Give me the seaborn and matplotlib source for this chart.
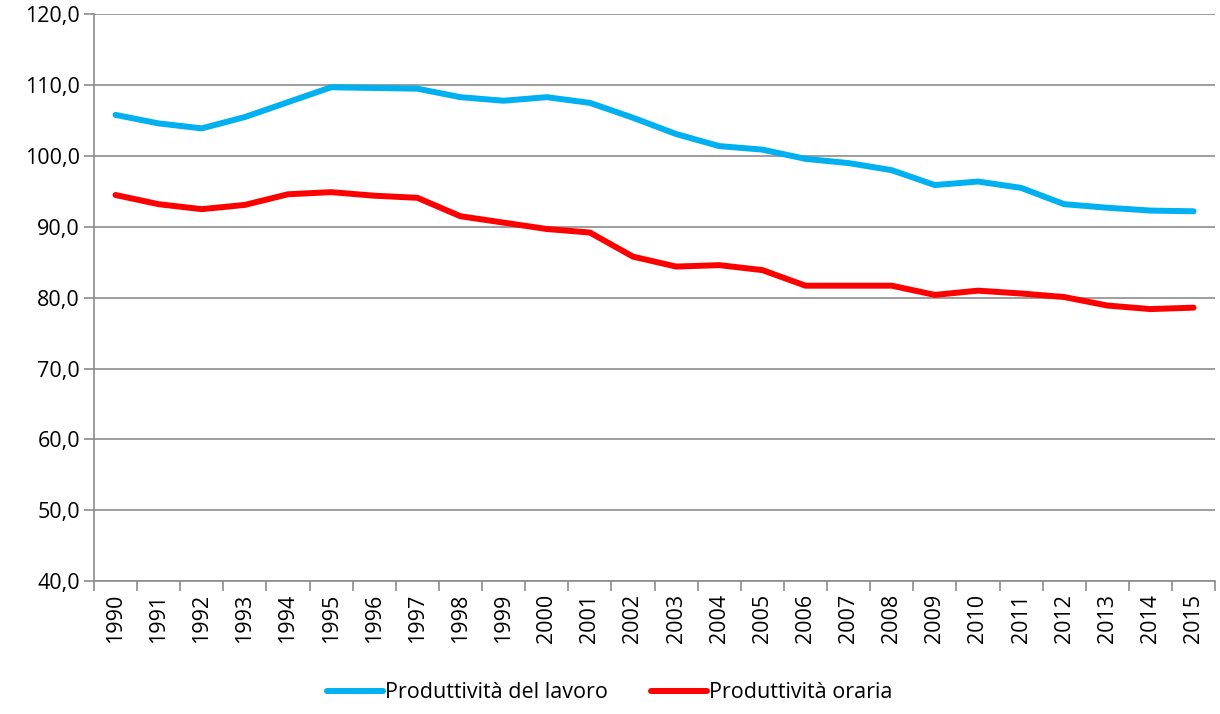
import numpy as np
import pandas as pd
import matplotlib
matplotlib.use("Agg")
import matplotlib.pyplot as plt
import seaborn as sns
from matplotlib.ticker import FixedLocator, FuncFormatter

years = list(range(1990, 2016))
lavoro = [105.8, 104.6, 103.9, 105.5, 107.6, 109.7, 109.6, 109.5, 108.3, 107.8,
          108.3, 107.5, 105.4, 103.1, 101.4, 100.9, 99.6, 99.0, 98.0, 95.9,
          96.4, 95.5, 93.2, 92.7, 92.3, 92.2]
oraria = [94.5, 93.2, 92.5, 93.1, 94.6, 94.9, 94.4, 94.1, 91.5, 90.6,
          89.7, 89.2, 85.8, 84.4, 84.6, 83.9, 81.7, 81.7, 81.7, 80.4,
          81.0, 80.6, 80.1, 78.9, 78.4, 78.6]
series_names = ["Produttività del lavoro", "Produttività oraria"]
colors = ["#00B0F0", "#FF0000"]

df = pd.concat([
    pd.DataFrame({"pos": range(len(years)), "valore": lavoro, "serie": series_names[0]}),
    pd.DataFrame({"pos": range(len(years)), "valore": oraria, "serie": series_names[1]}),
])

sns.set_style("white")
plt.rcParams["font.family"] = ["Open Sans", "DejaVu Sans"]
plt.rcParams["text.color"] = "black"
fs = 15.5

fig = plt.figure(figsize=(12.2, 7.14), dpi=100)
ax = fig.add_axes([0.077, 0.186, 0.919, 0.794])

sns.lineplot(data=df, x="pos", y="valore", hue="serie", palette=colors,
             linewidth=4.3, ax=ax, legend=True, solid_capstyle="round")

ax.set_xlim(-0.5, len(years) - 0.5)
ax.set_ylim(40, 120)
ax.set_yticks(np.arange(40, 121, 10))
ax.yaxis.set_major_formatter(FuncFormatter(lambda v, p: f"{v:.1f}".replace(".", ",")))
ax.yaxis.grid(True, color="#8c8c8c", linewidth=1.2)
ax.set_axisbelow(True)

ax.set_xticks(range(len(years)))
ax.set_xticklabels([str(y) for y in years], rotation=90)
ax.xaxis.set_minor_locator(FixedLocator(np.arange(-0.5, len(years), 1)))
ax.tick_params(axis="x", which="major", length=0, pad=9, labelsize=fs, labelcolor="black")
ax.tick_params(axis="x", which="minor", length=7, color="#8c8c8c", width=1.2, direction="out")
ax.tick_params(axis="y", which="major", length=7, color="#8c8c8c", width=1.2,
               direction="out", labelsize=fs, pad=3, labelcolor="black")
ax.xaxis.set_ticks_position("bottom")
ax.yaxis.set_ticks_position("left")

for s in ["top", "right"]:
    ax.spines[s].set_visible(False)
for s in ["left", "bottom"]:
    ax.spines[s].set_color("#8c8c8c")
    ax.spines[s].set_linewidth(1.2)

ax.set_xlabel("")
ax.set_ylabel("")

handles, labels = ax.get_legend_handles_labels()
ax.get_legend().remove()
fig.legend(handles, labels, loc="lower center", bbox_to_anchor=(0.5, -0.012), ncol=2,
           frameon=False, fontsize=fs, handlelength=2.6, handletextpad=0.1,
           columnspacing=2.0, labelcolor="black")

fig.savefig("out.png", dpi=100)
